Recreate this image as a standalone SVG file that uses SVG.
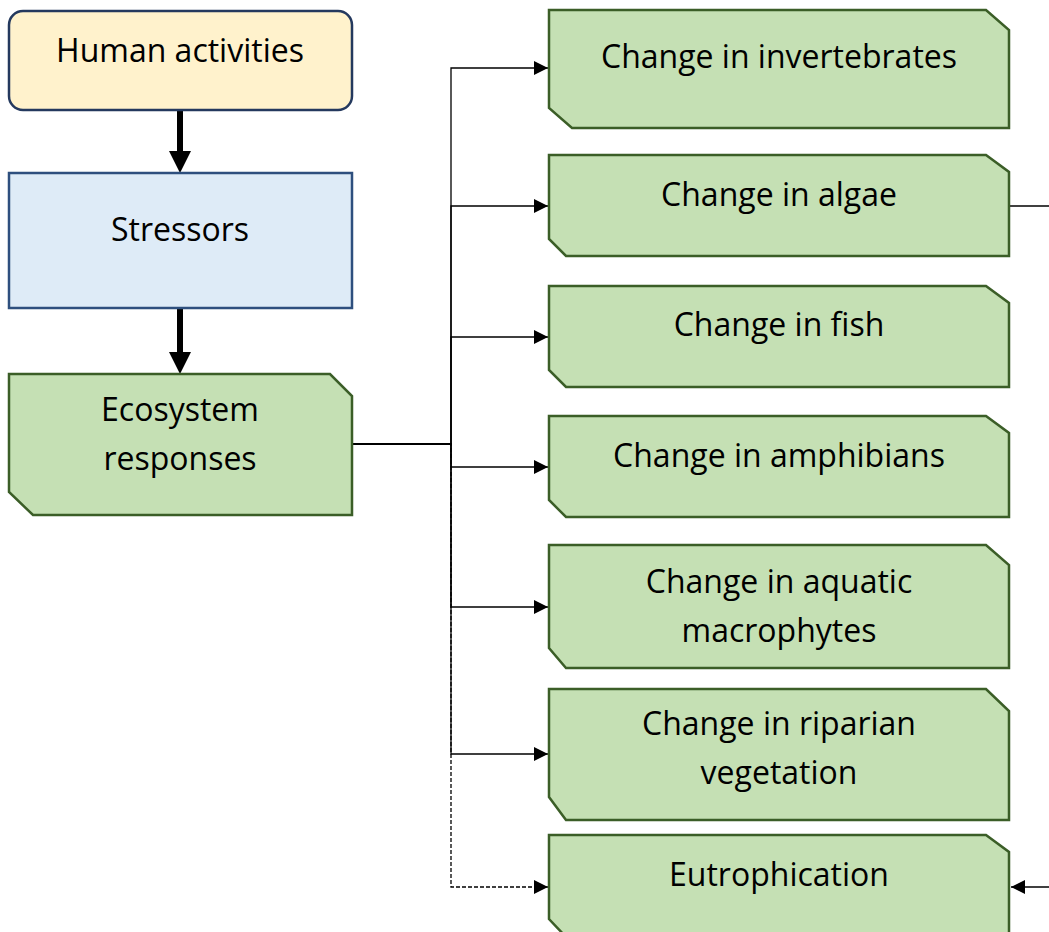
<svg xmlns="http://www.w3.org/2000/svg" width="1049" height="932" viewBox="0 0 1049 932">
  <defs>
    <style>
      .lbl { font-family: "Open Sans", Lato, "Liberation Sans", sans-serif; font-size: 32px; fill: #000; text-anchor: middle; font-variant-ligatures: none; }
      .green { fill: #C5E0B4; stroke: #3B5E27; stroke-width: 2.5; stroke-linejoin: miter; }
      .conn { fill: none; stroke: #000; stroke-width: 1.3; }
      .dash { stroke-dasharray: 4 2; }
      .thick { fill: none; stroke: #000; stroke-width: 6; }
    </style>
    <marker id="arr" viewBox="0 0 10 10" refX="10" refY="5" markerWidth="16" markerHeight="14" markerUnits="userSpaceOnUse" orient="auto">
      <path d="M0,0 L10,5 L0,10 Z" fill="#000"/>
    </marker>
    <marker id="bigarr" viewBox="0 0 10 10" refX="0" refY="5" markerWidth="22" markerHeight="23" markerUnits="userSpaceOnUse" orient="auto">
      <path d="M0,0 L10,5 L0,10 Z" fill="#000"/>
    </marker>
  </defs>

  <g id="connectors">
    <line class="thick" x1="180" y1="111" x2="180" y2="151" marker-end="url(#bigarr)"/>
    <line class="thick" x1="180" y1="309" x2="180" y2="352" marker-end="url(#bigarr)"/>
    <polyline class="conn dash" points="353,444 451,444 451,887 548,887" marker-end="url(#arr)"/>
    <polyline class="conn" points="353,444 451,444 451,68 548,68" marker-end="url(#arr)"/>
    <polyline class="conn" points="353,444 451,444 451,206 548,206" marker-end="url(#arr)"/>
    <polyline class="conn" points="353,444 451,444 451,337 548,337" marker-end="url(#arr)"/>
    <polyline class="conn" points="353,444 451,444 451,467 548,467" marker-end="url(#arr)"/>
    <polyline class="conn" points="353,444 451,444 451,607 548,607" marker-end="url(#arr)"/>
    <polyline class="conn" points="353,444 451,444 451,754 548,754" marker-end="url(#arr)"/>
    <polyline class="conn" points="1010,206 1049,206"/>
    <line class="conn" x1="1049" y1="887" x2="1011" y2="887" marker-end="url(#arr)"/>
  </g>

  <g id="human-activities">
    <rect x="9" y="11" width="343" height="99" rx="14" ry="14" fill="#FFF2CC" stroke="#24395E" stroke-width="2.5"/>
    <text class="lbl" x="180" y="62">Human activities</text>
  </g>

  <g id="stressors">
    <rect x="9" y="173" width="343" height="135" fill="#DEEBF7" stroke="#2E4F7E" stroke-width="2.5"/>
    <text class="lbl" x="180" y="241">Stressors</text>
  </g>

  <g id="ecosystem-responses">
    <path class="green" d="M9,374 H330 L352,396 V515 H33 L9,492 Z"/>
    <text class="lbl" x="180" y="421">Ecosystem</text>
    <text class="lbl" x="180" y="470">responses</text>
  </g>

  <g id="change-invertebrates">
    <path class="green" d="M549,10 H986 L1009,30 V128 H572 L549,108 Z"/>
    <text class="lbl" x="779" y="68">Change in invertebrates</text>
  </g>

  <g id="change-algae">
    <path class="green" d="M549,155 H986 L1009,172 V256 H566 L549,239 Z"/>
    <text class="lbl" x="779" y="206">Change in algae</text>
  </g>

  <g id="change-fish">
    <path class="green" d="M549,286 H986 L1009,303 V387 H566 L549,370 Z"/>
    <text class="lbl" x="779" y="336">Change in fish</text>
  </g>

  <g id="change-amphibians">
    <path class="green" d="M549,416 H986 L1009,433 V517 H566 L549,500 Z"/>
    <text class="lbl" x="779" y="467">Change in amphibians</text>
  </g>

  <g id="change-macrophytes">
    <path class="green" d="M549,545 H986 L1009,565 V668 H566 L549,648 Z"/>
    <text class="lbl" x="779" y="593">Change in aquatic</text>
    <text class="lbl" x="779" y="642">macrophytes</text>
  </g>

  <g id="change-riparian">
    <path class="green" d="M549,689 H986 L1009,711 V820 H566 L549,797 Z"/>
    <text class="lbl" x="779" y="735">Change in riparian</text>
    <text class="lbl" x="779" y="784">vegetation</text>
  </g>

  <g id="eutrophication">
    <path class="green" d="M549,835 H986 L1009,852 V937 H566 L549,919 Z"/>
    <text class="lbl" x="779" y="886">Eutrophication</text>
  </g>
</svg>
